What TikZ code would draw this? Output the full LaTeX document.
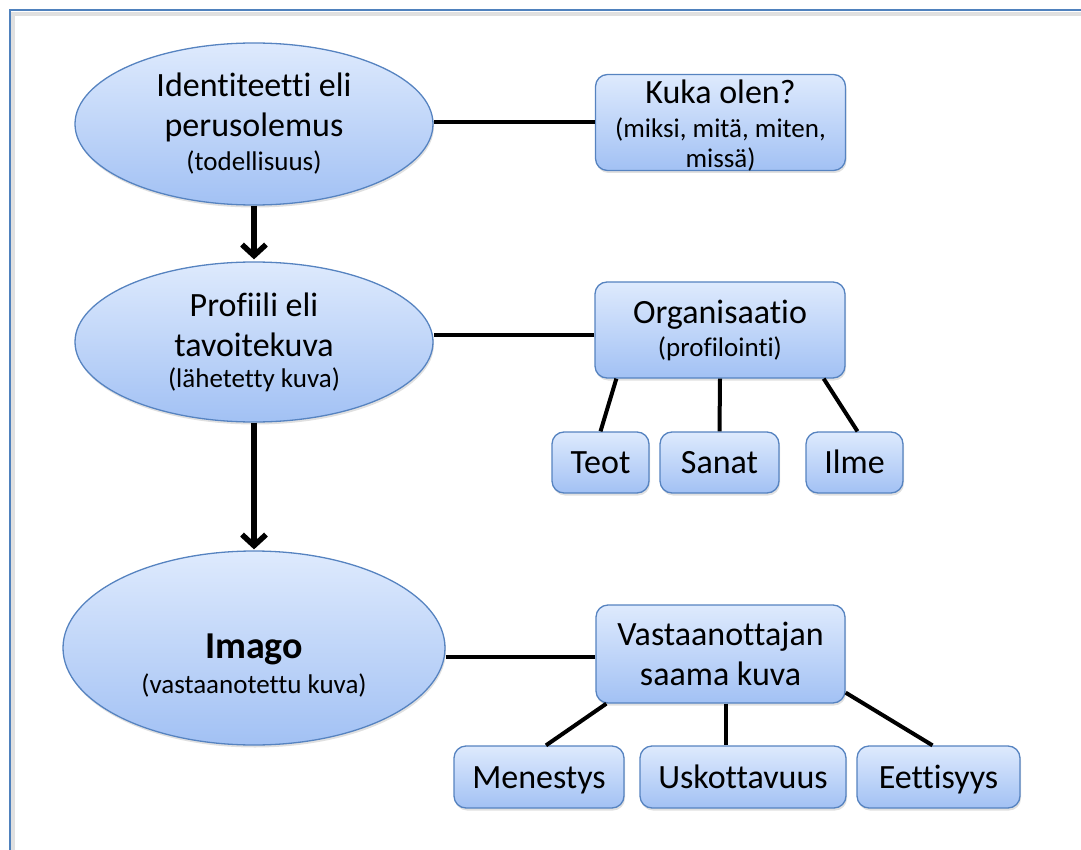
\documentclass[tikz,border=0pt]{standalone}
\usepackage{fontspec}
\setmainfont{Carlito}[Ligatures={NoCommon}]
\usetikzlibrary{shapes.geometric,arrows.meta,shadows,calc}
\definecolor{fillTop}{RGB}{222,234,253}
\definecolor{fillBot}{RGB}{162,193,244}
\definecolor{edgeBlue}{RGB}{86,131,192}
\definecolor{frameBlue}{RGB}{79,129,189}
\newcommand\bigtxt{\fontsize{34}{40}\selectfont}
\newcommand\smalltxt{\fontsize{27}{32}\selectfont}
\begin{document}
\begin{tikzpicture}[x=1pt,y=-1pt,
  softshadow/.style={drop shadow={shadow xshift=1pt,shadow yshift=-2.5pt,opacity=0.2,fill=black!60}},
  bubble/.style={ellipse,draw=edgeBlue,line width=1.3pt,top color=fillTop,bottom color=fillBot,
    inner sep=0pt,align=center,softshadow,font=\bigtxt},
  card/.style={rectangle,rounded corners=12pt,draw=edgeBlue,line width=1.3pt,top color=fillTop,
    bottom color=fillBot,inner sep=0pt,align=center,softshadow,font=\bigtxt},
  leaf/.style={card,minimum height=62pt,text height=28pt,text depth=6pt},
  caption/.style={inner sep=0pt,align=center,font=\bigtxt},
  link/.style={line width=4pt,black},
  flow/.style={line width=5.5pt,black,-{Straight Barb[length=11pt,width=24pt]}}]
\useasboundingbox (0,0) rectangle (1081,850);
% page frame
\draw[black,opacity=0.12,line width=4pt] (13,853) |- (1084,14);
\draw[frameBlue,line width=2pt] (10,852) |- (1083,10);

% left column: ellipses
\node[bubble,minimum width=358pt,minimum height=162pt] (e1) at (254,124)
  {Identiteetti eli\\perusolemus\\[-6pt]{\smalltxt (todellisuus)}};
\node[bubble,minimum width=358pt,minimum height=160pt] (e2) at (254,342)
  {Profiili eli\\tavoitekuva\\[-9pt]{\smalltxt (lähetetty kuva)}};
\node[bubble,minimum width=382pt,minimum height=194pt] (e3) at (254,648) {};
\node[caption] (e3txt) at ($(e3.center)+(0,18)$)
  {{\fontsize{38}{40}\selectfont\bfseries Imago}\\[-5pt]{\smalltxt (vastaanotettu kuva)}};

% right column: boxes
\node[card,minimum width=250pt,minimum height=96pt] (kuka) at (720.5,122.5) {};
\node[caption] (kukatxt) at ($(kuka.center)+(0,3)$)
  {Kuka olen?\\[-6pt]{\smalltxt (miksi, mitä, miten,}\\[-10pt]{\smalltxt missä)}};
\node[card,minimum width=250pt,minimum height=96pt] (org) at (720,330)
  {Organisaatio\\[-7pt]{\smalltxt (profilointi)}};
\node[leaf,minimum width=97pt,minimum height=61pt] (teot) at (600.5,462.5) {Teot};
\node[leaf,minimum width=119pt,minimum height=61pt] (sanat) at (719.5,462.5) {Sanat};
\node[leaf,minimum width=97pt,minimum height=61pt] (ilme) at (854.5,462.5) {Ilme};
\node[card,minimum width=249pt,minimum height=98pt] (vast) at (720.5,654)
  {Vastaanottajan\\saama kuva};
\node[leaf,minimum width=170pt] (men) at (539,777) {Menestys};
\node[leaf,minimum width=206pt] (usk) at (743,777) {Uskottavuus};
\node[leaf,minimum width=163pt] (eett) at (938.5,777) {Eettisyys};

% vertical flow
\draw[flow] (e1.south) -- ($(e2.north)+(0,-2)$);
\draw[flow] (e2.south) -- ($(e3.north)+(0,-1)$);

% horizontal links
\draw[link] (kuka.west) -- (kuka.west -| e1.east);
\draw[link] ($(org.west)+(0,5)$) -- ($(org.west -| e2.east)+(0,5)$);
\draw[link] ($(vast.west)+(0,3)$) -- ($(vast.west -| e3.east)+(0,3)$);

% branches
\draw[link] ($(org.south west)+(22,0)$) -- (teot.north);
\draw[link] (org.south) -- (sanat.north);
\draw[link] ($(org.south east)+(-22,0)$) -- ($(ilme.north)+(3,0)$);
\draw[link] ($(vast.south west)+(11,0)$) -- ($(men.north)+(7,0)$);
\draw[link] ($(vast.south)+(5.5,0)$) -- ($(usk.north)+(-17,0)$);
\draw[link] ($(vast.south east)+(0,-11)$) -- ($(eett.north)+(-6,0)$);
\end{tikzpicture}
\end{document}
